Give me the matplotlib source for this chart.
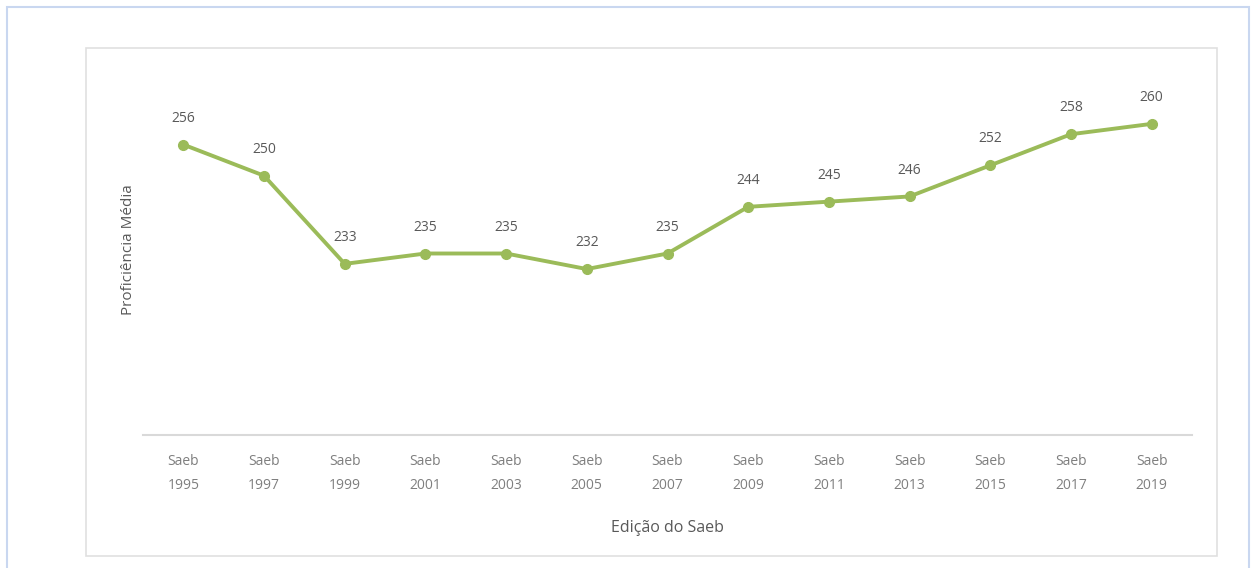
import matplotlib.pyplot as plt
from matplotlib.patches import Rectangle

EDICOES = ["Saeb\n1995", "Saeb\n1997", "Saeb\n1999", "Saeb\n2001", "Saeb\n2003",
           "Saeb\n2005", "Saeb\n2007", "Saeb\n2009", "Saeb\n2011", "Saeb\n2013",
           "Saeb\n2015", "Saeb\n2017", "Saeb\n2019"]
PROFICIENCIA = [256, 250, 233, 235, 235, 232, 235, 244, 245, 246, 252, 258, 260]

LINE_COLOR = "#9BBB59"
TEXT_COLOR = "#595959"

plt.rcParams['font.family'] = ['Open Sans', 'DejaVu Sans']

fig = plt.figure(figsize=(12.57, 5.68), dpi=100)
W, H = 1257, 568

# outer frame (light blue) and inner chart box (light gray)
fig.patches.append(Rectangle((7 / W, -0.01), (1249 - 7) / W, (568 - 7) / H + 0.01,
                             transform=fig.transFigure, fill=False,
                             edgecolor="#C9D7F0", linewidth=1.5))
fig.patches.append(Rectangle((86 / W, (H - 556) / H), (1217 - 86) / W, (556 - 48) / H,
                             transform=fig.transFigure, fill=False,
                             edgecolor="#E0E0E0", linewidth=1.2))

ax = fig.add_axes([143 / W, (H - 435) / H, (1192 - 143) / W, (435 - 72) / H])
x = list(range(len(EDICOES)))
ax.plot(x, PROFICIENCIA, color=LINE_COLOR, linewidth=2.8, marker='o',
        markersize=7, markerfacecolor=LINE_COLOR, markeredgecolor=LINE_COLOR)

for xi, v in zip(x, PROFICIENCIA):
    ax.annotate(str(v), (xi, v), xytext=(0, 19), textcoords='offset points',
                ha='center', va='center', fontsize=10, color=TEXT_COLOR)

ax.set_xlim(-0.5, len(EDICOES) - 0.5)
ax.set_ylim(200, 270)
ax.set_xticks(x)
ax.set_xticklabels(EDICOES, fontsize=10, color="#7F7F7F", linespacing=1.75)
ax.set_yticks([])
ax.tick_params(axis='x', length=0, pad=14)

for side in ['top', 'right', 'left']:
    ax.spines[side].set_visible(False)
ax.spines['bottom'].set_color("#D9D9D9")
ax.spines['bottom'].set_linewidth(1.5)

ax.set_xlabel("Edição do Saeb", fontsize=11.5, color=TEXT_COLOR, labelpad=20)
fig.text(128 / W, (H - 250) / H, "Proficiência Média", rotation=90,
         ha='center', va='center', fontsize=11, color=TEXT_COLOR)

fig.savefig("out.png", dpi=100)
